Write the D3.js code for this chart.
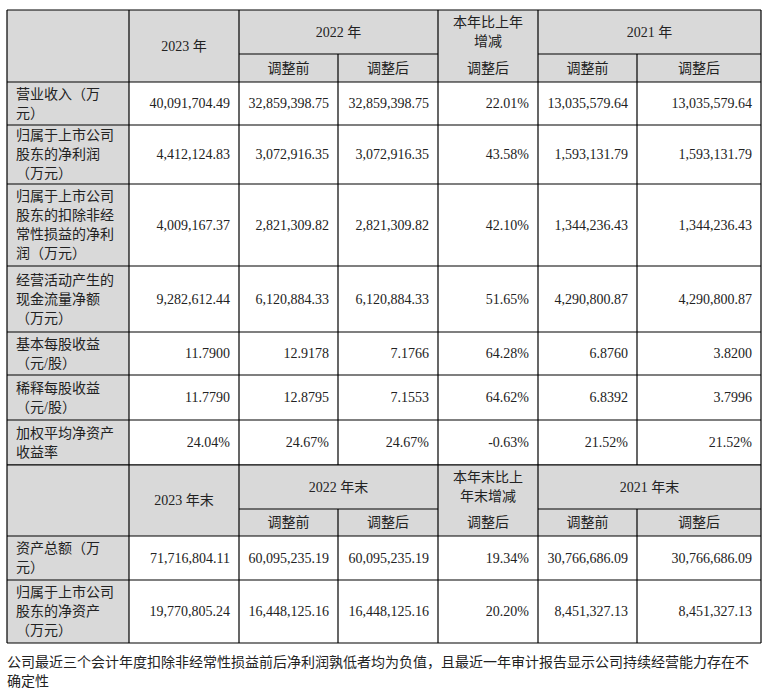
<!DOCTYPE html>
<html><head><meta charset="utf-8">
<script src="https://cdn.jsdelivr.net/npm/d3@7"></script>
<style>body{margin:0;background:#fff}</style></head>
<body><svg id="c" width="766" height="692"></svg>
<script>
const labels1 = [["营业收入（万","元）"],["归属于上市公司","股东的净利润","（万元）"],["归属于上市公司","股东的扣除非经","常性损益的净利","润（万元）"],["经营活动产生的","现金流量净额","（万元）"],["基本每股收益","（元/股）"],["稀释每股收益","（元/股）"],["加权平均净资产","收益率"]];
const values1 = [
["40,091,704.49","32,859,398.75","32,859,398.75","22.01%","13,035,579.64","13,035,579.64"],
["4,412,124.83","3,072,916.35","3,072,916.35","43.58%","1,593,131.79","1,593,131.79"],
["4,009,167.37","2,821,309.82","2,821,309.82","42.10%","1,344,236.43","1,344,236.43"],
["9,282,612.44","6,120,884.33","6,120,884.33","51.65%","4,290,800.87","4,290,800.87"],
["11.7900","12.9178","7.1766","64.28%","6.8760","3.8200"],
["11.7790","12.8795","7.1553","64.62%","6.8392","3.7996"],
["24.04%","24.67%","24.67%","-0.63%","21.52%","21.52%"]];
const labels2 = [["资产总额（万","元）"],["归属于上市公司","股东的净资产","（万元）"]];
const values2 = [
["71,716,804.11","60,095,235.19","60,095,235.19","19.34%","30,766,686.09","30,766,686.09"],
["19,770,805.24","16,448,125.16","16,448,125.16","20.20%","8,451,327.13","8,451,327.13"]];
const head1 = {y:"2023 年",g1:"2022 年",chg:["本年比上年","增减"],g2:"2021 年"};
const head2 = {y:"2023 年末",g1:"2022 年末",chg:["本年末比上","年末增减"],g2:"2021 年末"};
const subHeads = ["调整前","调整后","调整后","调整前","调整后"];
const footnote = ["公司最近三个会计年度扣除非经常性损益前后净利润孰低者均为负值，且最近一年审计报告显示公司持续经营能力存在不","确定性"];

const colEdges=[7,129,239,338,438,538,637,761];
const rowEdges1=[10,54,82,125,184,266,332,375,420,465];
const rowEdges2=[465,509,536,580,643];
const svg=d3.select("#c");
const FONT="'Liberation Serif','Noto Sans CJK SC',serif";
const GRAY="#d9d9d9", FS=14, LH=19;
function txt(x,y,lines,anchor,fill){
  const n=lines.length;
  lines.forEach((s,i)=>svg.append("text").attr("x",x).attr("y",y+(i-(n-1)/2)*LH).attr("dy","0.35em")
   .attr("text-anchor",anchor).attr("font-family",FONT).attr("font-size",FS).attr("fill",fill||"#222").text(s));
}
function rect(x0,y0,x1,y1,f){svg.append("rect").attr("x",x0).attr("y",y0).attr("width",x1-x0).attr("height",y1-y0).attr("fill",f);}
function line(x0,y0,x1,y1){svg.append("line").attr("x1",x0).attr("y1",y0).attr("x2",x1).attr("y2",y1).attr("stroke","#000").attr("stroke-width",1.2);}
function block(rows,labels,values,head){
  const c=colEdges, top=rows[0], mid=rows[1], hb=rows[2], bot=rows[rows.length-1];
  rect(c[0],top,c[7],hb,GRAY); rect(c[0],hb,c[1],bot,GRAY);
  const cx=(a,b)=>(c[a]+c[b])/2;
  txt(cx(1,2),(top+hb)/2,[head.y],"middle");
  txt(cx(2,4),(top+mid)/2,[head.g1],"middle");
  txt(cx(4,5),(top+mid)/2,head.chg,"middle");
  txt(cx(5,7),(top+mid)/2,[head.g2],"middle");
  subHeads.forEach((s,i)=>txt(cx(i+2,i+3),(mid+hb)/2,[s],"middle"));
  labels.forEach((lab,r)=>{
    const y0=rows[r+2],y1=rows[r+3],ym=(y0+y1)/2;
    txt(c[0]+9,ym,lab,"start");
    values[r].forEach((v,j)=>txt(c[j+2]-9,ym,[v],"end"));
  });
  // grid
  for(let r=2;r<rows.length;r++) line(c[0],rows[r],c[7],rows[r]);
  line(c[0],top,c[7],top);
  line(c[2],mid,c[4],mid); line(c[5],mid,c[7],mid);
  [0,1,2,4,5,7].forEach(k=>line(c[k],top,c[k],bot));
  [3,6].forEach(k=>line(c[k],mid,c[k],bot));
}
block(rowEdges1,labels1,values1,head1);
block(rowEdges2,labels2,values2,head2);
footnote.forEach((s,i)=>svg.append("text").attr("x",7).attr("y",667+i*19).attr("font-family",FONT).attr("font-size",FS).attr("fill","#222").text(s));
</script></body></html>
